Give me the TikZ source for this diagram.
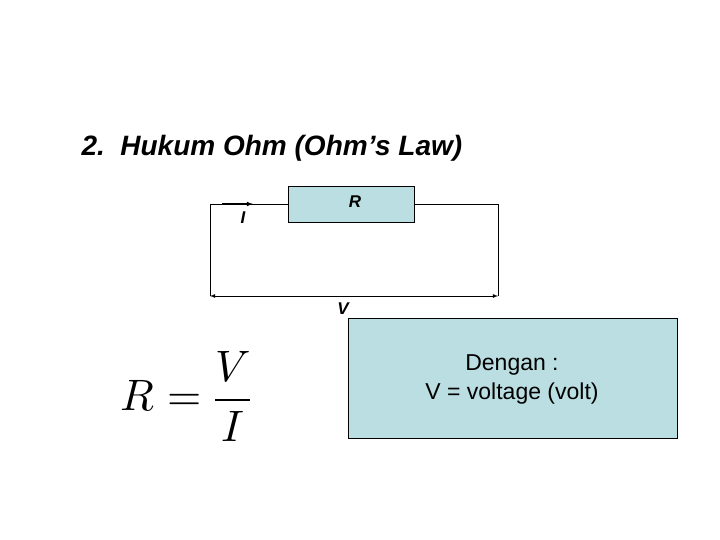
\documentclass[tikz,border=0pt]{standalone}
\usepackage{fontspec}
\setmainfont{Liberation Sans}
\usepackage{amsmath}
\usepackage{unicode-math}
\setmathfont{Latin Modern Math}
\definecolor{boxfill}{RGB}{186,222,226}
\begin{document}
\begin{tikzpicture}[x=1pt,y=-1pt,
  wire/.style={line width=0.8pt},
  lab/.style={font=\fontsize{17}{20}\selectfont\bfseries\itshape},
  bluebox/.style={draw, fill=boxfill, line width=0.6pt}]
\useasboundingbox (0,0) rectangle (720,540);
\node[anchor=west, font=\fontsize{28}{32}\selectfont\bfseries\itshape] (title) at (78,148) {2.\ \ Hukum Ohm (Ohm’s Law)};
\node[bluebox, minimum width=126pt, minimum height=36pt, inner sep=0pt] (res) at (351,204) {};
\node[lab] (rl) at (355,202) {R};
\coordinate (tl) at (210,204);
\coordinate (tr) at (498,204);
\coordinate (bl) at (210,296);
\coordinate (br) at (498,296);
\draw[wire] (res.west) -- (tl) -- (bl);
\draw[wire] (res.east) -- (tr) -- (br);
\draw[wire, <->, >=latex] (bl) -- (br);
\coordinate (ia) at (222,204);
\coordinate (ib) at (253,204);
\draw[line width=1.1pt, -latex] (ia) -- (ib);
\node[lab] (il) at (243,218) {I};
\node[lab] (vl) at (343,309) {V};
\node[bluebox, minimum width=329pt, minimum height=120pt, inner sep=0pt] (info) at (512.5,378) {};
\node[font=\fontsize{23}{29}\selectfont, align=center] (txt) at (512,379) {Dengan :\\V = voltage (volt)};
\node[font=\fontsize{44}{50}\selectfont] (eq) at (186,396) {$R=\dfrac{V}{I}$};
\end{tikzpicture}
\end{document}
